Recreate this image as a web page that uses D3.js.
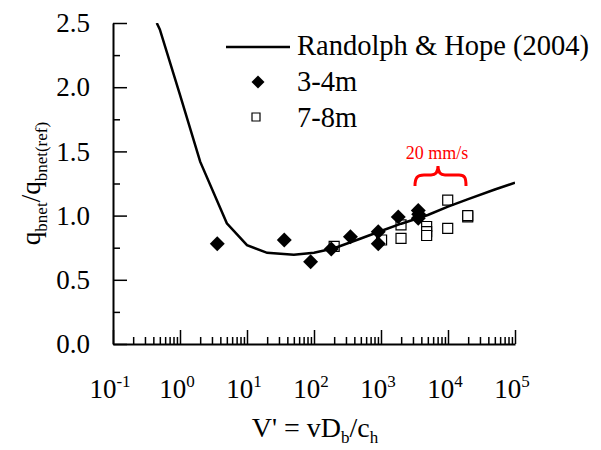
<!DOCTYPE html>
<html>
<head>
<meta charset="utf-8">
<script src="https://cdn.jsdelivr.net/npm/d3@7"></script>
<style>
  body { margin: 0; background: #fff; }
  svg text { font-family: "Liberation Serif", "Times New Roman", serif; fill: #000; }
</style>
</head>
<body>
<div id="chart"></div>
<script>
// Randolph & Hope (2004) backbone curve
var lineV = [0.45, 0.5, 1, 2, 5, 10, 20, 50, 100, 200, 500, 1000, 2000, 5000, 10000, 20000, 50000, 100000];
var lineQ = [2.5, 2.45, 1.94, 1.42, 0.94, 0.77, 0.71, 0.695, 0.71, 0.746, 0.822, 0.88, 0.937, 1.005, 1.07, 1.128, 1.203, 1.256];

// 3-4m (filled diamonds)
var v34 = [3.6, 36, 89, 181, 350, 910, 910, 1810, 3600, 3600, 3650];
var q34 = [0.78, 0.81, 0.64, 0.74, 0.836, 0.875, 0.78, 0.99, 1.04, 0.98, 1.01];

// 7-8m (open squares)
var v78 = [200, 1020, 1990, 1990, 4800, 4800, 4800, 9900, 9900, 19700, 19700];
var q78 = [0.76, 0.81, 0.927, 0.823, 0.915, 0.875, 0.845, 1.12, 0.90, 0.99, 1.0];

var xTickExp = [-1, 0, 1, 2, 3, 4, 5];
var yTicks = [0, 0.5, 1.0, 1.5, 2.0, 2.5];
var yMinor = [0.25, 0.75, 1.25, 1.75, 2.25];

var svgWidth = 601;
var svgHeight = 450;

var svg = d3.select("#chart")
	.append("svg")
	.attr("width", svgWidth)
	.attr("height", svgHeight);

var x = d3.scaleLog().domain([0.1, 1e5]).range([113, 515]);
var y = d3.scaleLinear().domain([0, 2.5]).range([344, 23]);

var xMajor = xTickExp.map(e => Math.pow(10, e));
var xMinor = [];
xTickExp.slice(0, -1).forEach(function(e) {
	for (var k = 2; k <= 9; k++) xMinor.push(k * Math.pow(10, e));
});

svg.append("defs").append("clipPath")
	.attr("id", "plotclip")
	.append("rect")
	.attr("x", 113).attr("y", 23)
	.attr("width", 402).attr("height", 321);

// x axis
var xMinorAxis = svg.append("g")
	.attr("transform", `translate(0, ${y(0)})`)
	.call(d3.axisBottom(x).tickValues(xMinor).tickSize(-7).tickSizeOuter(0).tickFormat(""));
xMinorAxis.select(".domain").remove();

var xAxis = svg.append("g")
	.attr("transform", `translate(0, ${y(0)})`)
	.call(d3.axisBottom(x).tickValues(xMajor).tickSize(-14).tickSizeOuter(0).tickFormat(""));

var xLabels = svg.append("g");
xTickExp.forEach(function(e) {
	var t = xLabels.append("text")
		.attr("x", x(Math.pow(10, e)) - 3)
		.attr("y", 398)
		.attr("text-anchor", "middle")
		.style("font-size", "27px");
	t.append("tspan").text("10");
	t.append("tspan")
		.attr("dy", -11)
		.style("font-size", "17px")
		.text(e);
});

// y axis
var yMinorAxis = svg.append("g")
	.attr("transform", `translate(${x(0.1)}, 0)`)
	.call(d3.axisLeft(y).tickValues(yMinor).tickSize(-7).tickSizeOuter(0).tickFormat(""));
yMinorAxis.select(".domain").remove();

var yAxis = svg.append("g")
	.attr("transform", `translate(${x(0.1)}, 0)`)
	.call(d3.axisLeft(y).tickValues(yTicks).tickSize(-14).tickSizeOuter(0).tickPadding(23).tickFormat(d3.format(".1f")));

yAxis.selectAll("text")
	.style("font-size", "27px");

svg.selectAll(".domain").attr("stroke-width", 2);
svg.selectAll(".tick line").attr("stroke-width", 1.5);

// axis titles
var xTitle = svg.append("text")
	.attr("x", 315)
	.attr("y", 437)
	.attr("text-anchor", "middle")
	.style("font-size", "28px");
xTitle.append("tspan").text("V' = vD");
xTitle.append("tspan").attr("dy", 6).style("font-size", "17px").text("b");
xTitle.append("tspan").attr("dy", -6).text("/c");
xTitle.append("tspan").attr("dy", 6).style("font-size", "17px").text("h");

var yTitle = svg.append("text")
	.attr("transform", `translate(40, ${(y(0) + y(2.5)) / 2}) rotate(-90)`)
	.attr("text-anchor", "middle")
	.style("font-size", "27px");
yTitle.append("tspan").text("q");
yTitle.append("tspan").attr("dy", 7).style("font-size", "17px").text("bnet");
yTitle.append("tspan").attr("dy", -7).text("/q");
yTitle.append("tspan").attr("dy", 7).style("font-size", "17px").text("bnet(ref)");

var plot = svg.append("g").attr("clip-path", "url(#plotclip)");

var diamond = d3.symbol().type(d3.symbolSquare).size(112);
var square = d3.symbol().type(d3.symbolSquare).size(100);

plot.selectAll(".sq")
	.data(v78.map((v, i) => [v, q78[i]]))
	.enter()
	.append("path")
	.attr("class", "sq")
	.attr("d", square)
	.attr("transform", d => `translate(${x(d[0])}, ${y(d[1])})`)
	.attr("fill", "#fff")
	.attr("stroke", "#000")
	.attr("stroke-width", 1.2);

plot.append("path")
	.datum(lineV.map((v, i) => [v, lineQ[i]]))
	.attr("fill", "none")
	.attr("stroke", "#000")
	.attr("stroke-width", 2.5)
	.attr("d", d3.line().x(d => x(d[0])).y(d => y(d[1])));

plot.selectAll(".dm")
	.data(v34.map((v, i) => [v, q34[i]]))
	.enter()
	.append("path")
	.attr("class", "dm")
	.attr("d", diamond)
	.attr("transform", d => `translate(${x(d[0])}, ${y(d[1])}) rotate(45)`)
	.attr("fill", "#000");

// legend
var legend = svg.append("g");
legend.append("line")
	.attr("x1", 226).attr("x2", 290)
	.attr("y1", 47).attr("y2", 47)
	.attr("stroke", "#000")
	.attr("stroke-width", 2.5);
legend.append("path")
	.attr("d", d3.symbol().type(d3.symbolSquare).size(85))
	.attr("transform", "translate(258, 82) rotate(45)")
	.attr("fill", "#000");
legend.append("path")
	.attr("d", d3.symbol().type(d3.symbolSquare).size(64))
	.attr("transform", "translate(256, 117)")
	.attr("fill", "#fff")
	.attr("stroke", "#000")
	.attr("stroke-width", 1.2);
var legendText = ["Randolph & Hope (2004)", "3-4m", "7-8m"];
legend.selectAll(".lt")
	.data(legendText)
	.enter()
	.append("text")
	.attr("class", "lt")
	.attr("x", 297)
	.attr("y", (d, i) => 55 + i * 36)
	.style("font-size", "28.5px")
	.text(d => d);

// 20 mm/s bracket
svg.append("path")
	.attr("d", "M415,186 C415,178 417,175 424,175 L431,175 C436,175 438,172 438,166 C438,172 440,175 445,175 L459,175 C465,175 466,178 466,186")
	.attr("fill", "none")
	.attr("stroke", "#ff0000")
	.attr("stroke-width", 3);
svg.append("text")
	.attr("x", 437)
	.attr("y", 159)
	.attr("text-anchor", "middle")
	.style("font-size", "18px")
	.style("fill", "#ff0000")
	.text("20 mm/s");
</script>
</body>
</html>
